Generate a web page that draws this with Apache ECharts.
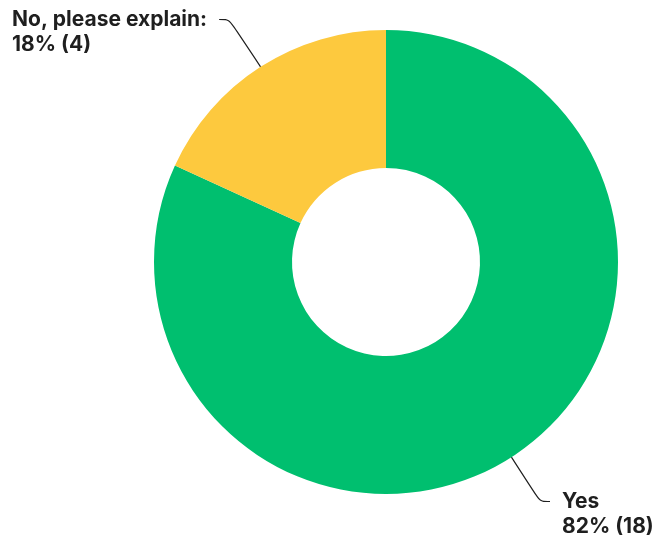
<!DOCTYPE html>
<html>
<head>
<meta charset="utf-8">
<script src="https://cdn.jsdelivr.net/npm/echarts@6/dist/echarts.min.js"></script>
<style>
    html, body { margin: 0; padding: 0; background: #fff; }
    #chart { width: 653px; height: 542px; }
</style>
</head>
<body>
<div id="chart"></div>
<script>
// answers and response counts
const categories = ["Yes", "No, please explain:"];
const counts = [18, 4];
const colors = ["#00bf6f", "#fdc93e"];

// where each label block sits (top-left corner) and which side the line comes from
const labelSpots = [
    { x: 562, y: 489, side: "left" },
    { x: 12, y: 7, side: "right" },
];

const fontSize = 21;
const lineHeight = 25;

const chart = echarts.init(document.getElementById("chart"));

const option = {
    animation: false,
    series: [
        {
            type: "pie",
            center: [386, 262],
            radius: [94, 232],
            startAngle: 90,
            clockwise: true,
            data: categories.map((name, i) => ({
                name: name,
                value: counts[i],
                itemStyle: { color: colors[i] },
            })),
            label: {
                show: true,
                position: "outside",
                formatter: p => `${p.name}\n${Math.round(p.percent)}% (${p.value})`,
                fontFamily: "Inter",
                fontWeight: "bold",
                fontSize: fontSize,
                lineHeight: lineHeight,
                color: "#1f1f1f",
                align: "left",
                overflow: "none",
                edgeDistance: 0,
            },
            labelLine: {
                show: true,
                smooth: 0.3,
                lineStyle: { color: "#1f1f1f", width: 1.2 },
            },
            labelLayout: params => {
                const spot = labelSpots[params.dataIndex];
                const start = params.labelLinePoints[0];
                const midY = spot.y + lineHeight / 2;
                let endX;
                let bendX;
                if (spot.side === "left") {
                    endX = spot.x - 12;
                    bendX = endX - 10;
                } else {
                    endX = spot.x + params.labelRect.width + 12;
                    bendX = endX + 10;
                }
                return {
                    x: spot.x,
                    y: spot.y,
                    align: "left",
                    verticalAlign: "top",
                    labelLinePoints: [start, [bendX, midY], [endX, midY]],
                };
            },
            emphasis: { disabled: true },
        },
    ],
};

chart.setOption(option);
</script>
</body>
</html>
